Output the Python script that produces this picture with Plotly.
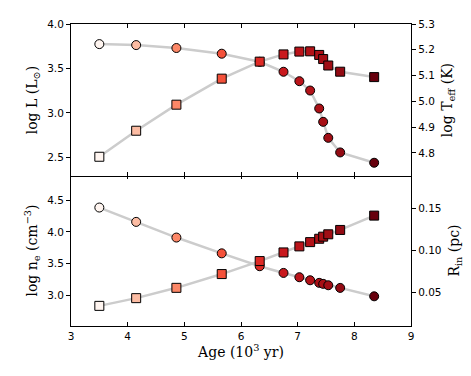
import plotly.graph_objects as go
from plotly.colors import sample_colorscale, sequential

# Data
age = [3.50, 4.15, 4.86, 5.66, 6.33, 6.75, 7.03, 7.22, 7.38, 7.45, 7.54, 7.75, 8.35]
log_L = [3.774, 3.763, 3.73, 3.666, 3.575, 3.463, 3.357, 3.252, 3.05, 2.90, 2.72, 2.556, 2.44]
log_Teff = [4.785, 4.886, 4.987, 5.088, 5.154, 5.182, 5.193, 5.194, 5.18, 5.164, 5.139, 5.115, 5.094]
log_ne = [4.385, 4.158, 3.91, 3.66, 3.456, 3.35, 3.282, 3.234, 3.193, 3.177, 3.155, 3.113, 2.98]
R_in = [0.034, 0.0432, 0.0555, 0.0719, 0.0874, 0.0977, 0.1049, 0.110, 0.114, 0.1165, 0.1193, 0.1245, 0.1416]

x_ticks = [3, 4, 5, 6, 7, 8, 9]

# colour scale (Reds, slightly stretched toward dark)
grid = [i / 20 for i in range(21)]
cs = [[g, c] for g, c in zip(grid, sample_colorscale(sequential.Reds, [g ** 0.7 for g in grid]))]

LINE = dict(color="#cccccc", width=2.5)
AX = "black"
SANS = "DejaVu Sans"
SERIF = "DejaVu Serif"


def mk(symbol):
    return dict(symbol=symbol, size=9, color=age, colorscale=cs, cmin=min(age), cmax=max(age),
                line=dict(color="black", width=1))


fig = go.Figure()
# top panel
fig.add_trace(go.Scatter(x=age, y=log_L, mode="lines", line=LINE, xaxis="x2", yaxis="y3", hoverinfo="skip"))
fig.add_trace(go.Scatter(x=age, y=log_L, mode="markers", marker=mk("circle"), xaxis="x2", yaxis="y3"))
fig.add_trace(go.Scatter(x=age, y=log_Teff, mode="lines", line=LINE, xaxis="x2", yaxis="y4", hoverinfo="skip"))
fig.add_trace(go.Scatter(x=age, y=log_Teff, mode="markers", marker=mk("square"), xaxis="x2", yaxis="y4"))
# bottom panel
fig.add_trace(go.Scatter(x=age, y=log_ne, mode="lines", line=LINE, xaxis="x", yaxis="y", hoverinfo="skip"))
fig.add_trace(go.Scatter(x=age, y=log_ne, mode="markers", marker=mk("circle"), xaxis="x", yaxis="y"))
fig.add_trace(go.Scatter(x=age, y=R_in, mode="lines", line=LINE, xaxis="x", yaxis="y2", hoverinfo="skip"))
fig.add_trace(go.Scatter(x=age, y=R_in, mode="markers", marker=mk("square"), xaxis="x", yaxis="y2"))

common_x = dict(range=[3, 9], tickvals=x_ticks, ticks="inside", ticklen=4, tickcolor=AX,
                showline=True, linecolor=AX, linewidth=1.1, mirror="ticks", showgrid=False, zeroline=False,
                tickfont=dict(family=SANS, size=10.5, color="black"))
common_y = dict(ticks="outside", ticklen=4, tickcolor=AX, showline=True, linecolor=AX, linewidth=1.1,
                showgrid=False, zeroline=False, tickfont=dict(family=SANS, size=10.5, color="black"),
                title_font=dict(family=SERIF, size=14, color="black"))

fig.update_layout(
    width=471, height=376,
    margin=dict(l=63, r=68, t=16, b=58, autoexpand=False),
    paper_bgcolor="white", plot_bgcolor="white",
    showlegend=False,
    xaxis=dict(domain=[0, 1], anchor="y", **common_x,
               title=dict(text="Age (10<sup>3</sup> yr)", font=dict(family=SERIF, size=14, color="black"), standoff=4)),
    xaxis2=dict(domain=[0, 1], anchor="y3", matches="x", showticklabels=False, **common_x),
    yaxis=dict(domain=[0, 0.5], anchor="x", range=[2.51, 4.9], dtick=0.5, tickformat=".1f",
               title=dict(text="log n<sub>e</sub> (cm<sup>−3</sup>)", standoff=6), **common_y),
    yaxis2=dict(overlaying="y", side="right", anchor="x", range=[0.01, 0.19], dtick=0.05, tickformat=".2f",
                title=dict(text="R<sub>in</sub> (pc)", standoff=8), **common_y),
    yaxis3=dict(domain=[0.4964, 1], anchor="x2", range=[2.29, 4.0], dtick=0.5, tickformat=".1f",
                title=dict(text="log L (L<sub>⊙</sub>)", standoff=6), **common_y),
    yaxis4=dict(overlaying="y3", side="right", anchor="x2", range=[4.71, 5.3], dtick=0.1, tickformat=".1f",
                title=dict(text="log T<sub>eff</sub> (K)", standoff=8), **common_y),
)

fig.write_html("out.html")
